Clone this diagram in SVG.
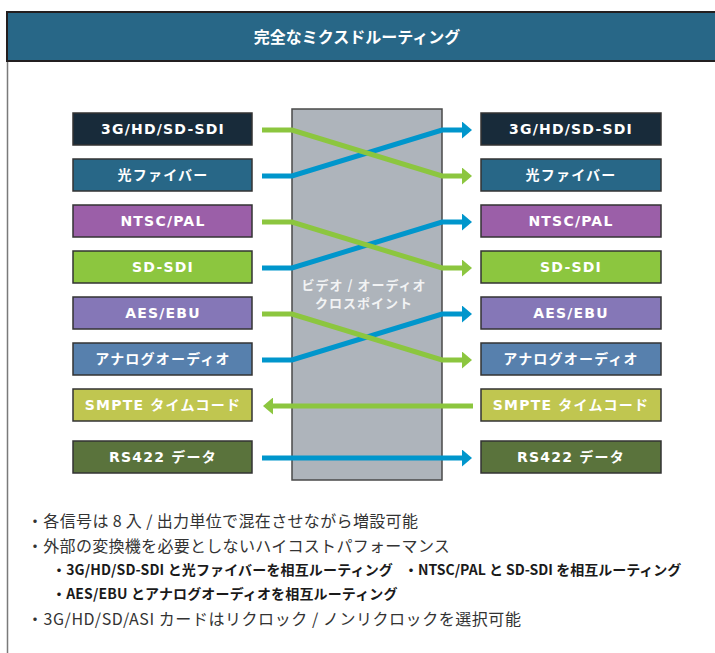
<svg xmlns="http://www.w3.org/2000/svg" width="715" height="653" viewBox="0 0 715 653">
<defs>
<style>
.box{stroke:#333;stroke-width:1.5}
.bl{font-family:"DejaVu Sans","Noto Sans CJK JP",sans-serif;font-weight:bold;font-size:14px;letter-spacing:1.2px;fill:#fff;text-anchor:middle}
.ln{fill:none;stroke-width:5}
.g{stroke:#8cc63f}
.b{stroke:#0096cc}
.note{font-family:"Noto Sans CJK JP",sans-serif;font-size:16px;fill:#333}
.sub{font-family:"Noto Sans CJK JP",sans-serif;font-size:14px;font-weight:bold;fill:#1a1a1a}
</style>
<marker id="ab" viewBox="0 0 10 17" markerWidth="10" markerHeight="17" refX="1" refY="8.5" orient="auto" markerUnits="userSpaceOnUse"><path d="M0,0 L10,8.5 L0,17 z" fill="#0096cc"/></marker>
<marker id="ag" viewBox="0 0 10 17" markerWidth="10" markerHeight="17" refX="1" refY="8.5" orient="auto" markerUnits="userSpaceOnUse"><path d="M0,0 L10,8.5 L0,17 z" fill="#8cc63f"/></marker>
</defs>
<rect width="715" height="653" fill="#fff"/>
<line x1="7.5" y1="61" x2="7.5" y2="653" stroke="#7a7a7a" stroke-width="1.5"/>
<g id="header">
<rect x="7" y="12" width="720" height="49" fill="#286787" stroke="#231f20" stroke-width="2"/>
<text x="357" y="43" text-anchor="middle" font-family="'Noto Sans CJK JP',sans-serif" font-weight="bold" font-size="16" fill="#fff">完全なミクスドルーティング</text>
</g>
<g id="crosspoint">
<rect x="292" y="109" width="150" height="371" fill="#aeb4bb" stroke="#4a4a4a" stroke-width="1.5"/>
<text x="364" y="290" text-anchor="middle" font-family="'Noto Sans CJK JP',sans-serif" font-weight="bold" font-size="13" letter-spacing="1" fill="#f2f3f4">ビデオ / オーディオ</text>
<text x="364" y="308" text-anchor="middle" font-family="'Noto Sans CJK JP',sans-serif" font-weight="bold" font-size="13" letter-spacing="1" fill="#f2f3f4">クロスポイント</text>
</g>
<g id="in1"><rect class="box" x="73" y="113" width="179" height="32" fill="#182b3a"/><text class="bl" x="163" y="134">3G/HD/SD-SDI</text></g>
<g id="in2"><rect class="box" x="73" y="159" width="179" height="32" fill="#286787"/><text class="bl" x="163" y="180">光ファイバー</text></g>
<g id="in3"><rect class="box" x="73" y="205" width="179" height="32" fill="#9b5fa8"/><text class="bl" x="163" y="226">NTSC/PAL</text></g>
<g id="in4"><rect class="box" x="73" y="251" width="179" height="32" fill="#8cc63f"/><text class="bl" x="163" y="272">SD-SDI</text></g>
<g id="in5"><rect class="box" x="73" y="297" width="179" height="32" fill="#8577b7"/><text class="bl" x="163" y="318">AES/EBU</text></g>
<g id="in6"><rect class="box" x="73" y="343" width="179" height="32" fill="#5780ad"/><text class="bl" x="163" y="364">アナログオーディオ</text></g>
<g id="in7"><rect class="box" x="73" y="389" width="179" height="32" fill="#c0c650"/><text class="bl" x="163" y="410">SMPTE タイムコード</text></g>
<g id="in8"><rect class="box" x="73" y="441" width="179" height="32" fill="#5a733c"/><text class="bl" x="163" y="462">RS422 データ</text></g>
<g id="out1"><rect class="box" x="481" y="113" width="180" height="32" fill="#182b3a"/><text class="bl" x="571" y="134">3G/HD/SD-SDI</text></g>
<g id="out2"><rect class="box" x="481" y="159" width="180" height="32" fill="#286787"/><text class="bl" x="571" y="180">光ファイバー</text></g>
<g id="out3"><rect class="box" x="481" y="205" width="180" height="32" fill="#9b5fa8"/><text class="bl" x="571" y="226">NTSC/PAL</text></g>
<g id="out4"><rect class="box" x="481" y="251" width="180" height="32" fill="#8cc63f"/><text class="bl" x="571" y="272">SD-SDI</text></g>
<g id="out5"><rect class="box" x="481" y="297" width="180" height="32" fill="#8577b7"/><text class="bl" x="571" y="318">AES/EBU</text></g>
<g id="out6"><rect class="box" x="481" y="343" width="180" height="32" fill="#5780ad"/><text class="bl" x="571" y="364">アナログオーディオ</text></g>
<g id="out7"><rect class="box" x="481" y="389" width="180" height="32" fill="#c0c650"/><text class="bl" x="571" y="410">SMPTE タイムコード</text></g>
<g id="out8"><rect class="box" x="481" y="441" width="180" height="32" fill="#5a733c"/><text class="bl" x="571" y="462">RS422 データ</text></g>
<g id="connectors">
<path class="ln b" d="M262,176 H292 L442,130 H463" marker-end="url(#ab)"/>
<path class="ln g" d="M262,130 H292 L442,176 H463" marker-end="url(#ag)"/>
<path class="ln b" d="M262,268 H292 L442,222 H463" marker-end="url(#ab)"/>
<path class="ln g" d="M262,222 H292 L442,268 H463" marker-end="url(#ag)"/>
<path class="ln b" d="M262,360 H292 L442,314 H463" marker-end="url(#ab)"/>
<path class="ln g" d="M262,314 H292 L442,360 H463" marker-end="url(#ag)"/>
<path class="ln g" d="M473,406 H272" marker-end="url(#ag)"/>
<path class="ln b" d="M262,458 H463" marker-end="url(#ab)"/>
</g>
<g id="notes">
<text class="note" x="27" y="527" letter-spacing="0.35">・各信号は 8 入 / 出力単位で混在させながら増設可能</text>
<text class="note" x="27" y="552" letter-spacing="0.3">・外部の変換機を必要としないハイコストパフォーマンス</text>
<text class="sub" x="52" y="575" letter-spacing="0.15">・3G/HD/SD-SDI と光ファイバーを相互ルーティング</text>
<text class="sub" x="404" y="575">・NTSC/PAL と SD-SDI を相互ルーティング</text>
<text class="sub" x="52" y="599" letter-spacing="0.15">・AES/EBU とアナログオーディオを相互ルーティング</text>
<text class="note" x="27" y="625" letter-spacing="0.55">・3G/HD/SD/ASI カードはリクロック / ノンリクロックを選択可能</text>
</g>
</svg>
